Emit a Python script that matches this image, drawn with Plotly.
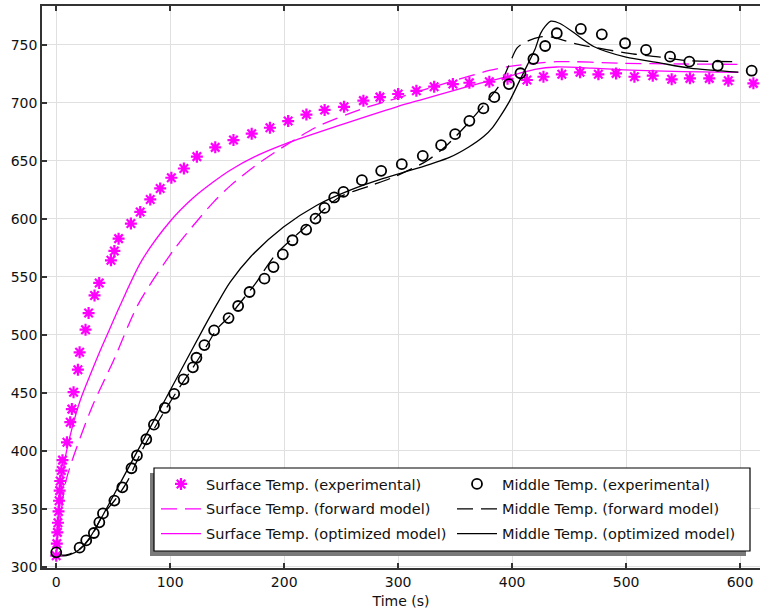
import plotly.graph_objects as go

# ---------------- data ----------------
surf_exp_t = [0, 0.5, 1, 1.5, 2, 2.5, 3, 3.5, 4.5, 5.5,
              9.4, 12.3, 13.7, 15.2, 19, 20.5, 25.7, 28.4, 33.6, 37.7,
              48, 51, 54.7, 65.5, 73.7, 82.5, 91.2, 101, 112, 123.4,
              139.5, 155.5, 171.5, 187.5, 203.5, 219.5, 235.5, 252.5, 269.5, 284,
              300, 316, 331.6, 348, 362.5, 380, 396, 413, 427.5, 443.6,
              459.6, 475.7, 491.2, 507.3, 523.4, 540, 556, 573, 589.7, 611.7]
surf_exp_T = [309.6, 320, 329.7, 338, 347.8, 357, 365.7, 374, 383, 392,
              407.4, 424.7, 436, 450.6, 470, 485, 504.5, 518.8, 534, 544.8,
              564.3, 572.4, 583, 596, 606, 616.8, 626.3, 635.5, 643.5, 653.7,
              661.7, 668, 673.5, 678.6, 684.4, 690, 694, 696.7, 702, 705,
              707.7, 710.5, 714, 716.3, 717.4, 718.3, 720.8, 719.8, 722.6, 724.7,
              726.4, 724.7, 725.5, 722.6, 723.5, 720.4, 721.2, 721.2, 719.2, 716.9]

mid_exp_t = [0, 20.5, 26.3, 33, 37.8, 41, 51, 58, 66, 70.8,
             79, 85.7, 95.3, 103.5, 111.7, 119.9, 123, 130, 138.5, 151.2,
             159.6, 169.6, 182.7, 190.6, 198.8, 207.3, 219.3, 227.5, 235.4, 243.9,
             252, 268.2, 285.1, 303.2, 321.6, 337.7, 350, 362.5, 374.8, 384.4,
             397.2, 407.3, 418.7, 429, 439.2, 460.3, 478.7, 499.1, 517.5, 538.6,
             555.5, 580.4, 610.2]
mid_exp_T = [312.5, 316.5, 322.8, 329.2, 338.4, 346.1, 357.1, 368.6, 385, 396,
             410, 422.6, 437, 449.2, 461.7, 472, 480.3, 491.2, 503.9, 514.5,
             524.9, 537, 548.5, 558.5, 569.5, 581.6, 590.8, 600.3, 609.5, 618.5,
             623.3, 633.4, 641.5, 647.2, 654.4, 663.6, 673.1, 684.6, 695.3, 705,
             716.3, 725.6, 737.9, 749.1, 760.1, 763.8, 759.2, 751.5, 745.7, 739.9,
             735.6, 732.1, 727.8]

surf_fwd_t = [0, 4, 8, 13.7, 31.3, 50.3, 72.2, 102.9, 123.4, 138, 152.6, 173.5,
              198.5, 228.7, 269.6, 298.8, 316.4, 350, 380, 398, 439, 497.6, 550, 598.5]
surf_fwd_T = [310, 345, 372, 391, 437.7, 478, 527, 573, 598, 614.5, 628.5, 645,
              661.7, 679.4, 695.3, 704, 709.5, 719.5, 728, 731.5, 735.6, 734.2, 733.6, 733.3]

surf_opt_t = [0, 3, 7.9, 14, 21, 30, 38.6, 44.4, 56.4, 75, 100, 120, 138, 152.6,
              177, 201.5, 246.2, 298.8, 319.3, 350, 380, 395, 420, 439, 470, 497.6, 550, 598.5]
surf_opt_T = [310, 352, 394, 420, 443.4, 466, 486.6, 499.5, 526.2, 564, 598, 618, 632, 642,
              655, 665, 680, 696.7, 702.5, 711, 719, 722.5, 729, 731, 730, 728.5, 727, 726.4]

mid_fwd_t = [0, 5, 10, 20, 30, 41, 51, 62, 75, 90, 105, 120, 131, 141, 152, 160,
             174.6, 192, 221, 248, 277, 297, 325, 341, 360, 375, 390, 397, 404.6,
             414, 425, 434, 456, 483, 508, 530, 553, 598.5]
mid_fwd_T = [311, 310, 310.5, 315, 325, 345, 357, 373, 400, 426, 450, 472, 489, 505, 516, 526,
             544, 568.7, 595, 618.5, 629, 636.5, 650, 662, 681, 698, 717, 732, 747.7,
             753.5, 757, 757, 751, 746, 742, 739.6, 736.5, 735.6]

mid_opt_t = [0, 5, 12, 21, 30, 41.5, 62, 85.4, 105.9, 129.2, 141, 152.6, 170.2, 199.4,
             228.7, 257.9, 287.1, 316.4, 345, 362, 375, 383, 390, 398, 405, 413, 420,
             425, 429, 434, 442, 457, 472, 500, 527, 556, 598.5]
mid_opt_T = [312, 309.5, 310.5, 315.4, 326, 345.6, 383, 425.6, 463, 505.6, 526.5, 545.5, 567, 593,
             611.8, 624.8, 634.9, 643.5, 653, 662, 671, 679, 689, 702, 716, 732, 746,
             760, 766, 770.5, 768.5, 758.6, 748.5, 739.5, 735, 730, 726.5]

x_ticks = [0, 100, 200, 300, 400, 500, 600]
y_ticks = [300, 350, 400, 450, 500, 550, 600, 650, 700, 750]

names = {
    'se': 'Surface Temp. (experimental)',
    'sf': 'Surface Temp. (forward model)',
    'so': 'Surface Temp. (optimized model)',
    'me': 'Middle Temp. (experimental)',
    'mf': 'Middle Temp. (forward model)',
    'mo': 'Middle Temp. (optimized model)',
}

MAG = '#ff00ff'
BLK = '#000000'
FONT = 'DejaVu Sans'
DASH = '16px,8px'

fig = go.Figure()


def curve(t, T, key, color, dash, legend, rank):
    return go.Scatter(
        x=t, y=T, mode='lines', name=names[key], legend=legend,
        legendrank=rank, legendgroup=key,
        line=dict(color=color, width=1.3, dash=dash, shape='spline', smoothing=0.8),
        hoverinfo='skip')


fig.add_trace(curve(surf_fwd_t, surf_fwd_T, 'sf', MAG, DASH, 'legend', 2))
fig.add_trace(curve(surf_opt_t, surf_opt_T, 'so', MAG, 'solid', 'legend', 3))
fig.add_trace(curve(mid_fwd_t, mid_fwd_T, 'mf', BLK, DASH, 'legend2', 2))
fig.add_trace(curve(mid_opt_t, mid_opt_T, 'mo', BLK, 'solid', 'legend2', 3))

fig.add_trace(go.Scatter(
    x=surf_exp_t, y=surf_exp_T, mode='markers', name=names['se'], legend='legend',
    legendrank=1, legendgroup='se',
    marker=dict(symbol='asterisk', size=10, color=MAG, line=dict(color=MAG, width=2.2))))
fig.add_trace(go.Scatter(
    x=mid_exp_t, y=mid_exp_T, mode='markers', name=names['me'], legend='legend2',
    legendrank=1, legendgroup='me',
    marker=dict(symbol='circle-open', size=10, color=BLK, line=dict(color=BLK, width=1.8))))

# plot-area geometry in pixels
L, R, T_, B = 42, 0, 6, 41
W, H = 760, 609
pw = W - L - R
ph = H - T_ - B


def px_x(p):
    return (p - L) / pw


def px_y(p):
    return (H - B - p) / ph


# legend frame with shadow
fig.add_shape(type='rect', xref='paper', yref='paper', layer='above',
              x0=px_x(150), x1=px_x(746), y0=px_y(556), y1=px_y(473),
              fillcolor='#7a7a7a', line=dict(width=0))
fig.add_shape(type='rect', xref='paper', yref='paper', layer='above',
              x0=px_x(154), x1=px_x(750), y0=px_y(551), y1=px_y(468),
              fillcolor='white', line=dict(color='black', width=1.2))

leg_common = dict(font=dict(family=FONT, size=14.5, color='#111'),
                  bgcolor='rgba(0,0,0,0)', borderwidth=0, itemwidth=40,
                  tracegroupgap=3, yanchor='top', xanchor='left',
                  orientation='v', traceorder='grouped')

fig.update_layout(
    width=W, height=H,
    margin=dict(l=L, r=R, t=T_, b=B, autoexpand=False),
    paper_bgcolor='white', plot_bgcolor='white',
    font=dict(family=FONT, size=14, color='#111'),
    showlegend=True,
    legend=dict(x=px_x(156), y=px_y(468), **leg_common),
    legend2=dict(x=px_x(452), y=px_y(468), **leg_common),
    xaxis=dict(range=[-12.5, 617.5], tickvals=x_ticks, ticktext=[str(v) for v in x_ticks],
               showgrid=True, gridcolor='#e0e0e0', gridwidth=1, zeroline=False,
               showline=True, linecolor='#333', linewidth=1.5, mirror='ticks',
               ticks='inside', ticklen=5, tickwidth=1.5, tickcolor='#333',
               automargin=False,
               title=dict(text='Time (s)', font=dict(family=FONT, size=14)),
               tickfont=dict(family=FONT, size=14)),
    yaxis=dict(range=[299, 783.6], tickvals=y_ticks, ticktext=[str(v) for v in y_ticks],
               showgrid=True, gridcolor='#e0e0e0', gridwidth=1, zeroline=False,
               showline=True, linecolor='#333', linewidth=1.5, mirror=False,
               ticks='inside', ticklen=5, tickwidth=1.5, tickcolor='#333',
               automargin=False,
               tickfont=dict(family=FONT, size=14)),
)

fig.write_html('out.html', config={'displayModeBar': False},
               post_script="document.body.style.margin='0';document.body.style.overflow='hidden';")
